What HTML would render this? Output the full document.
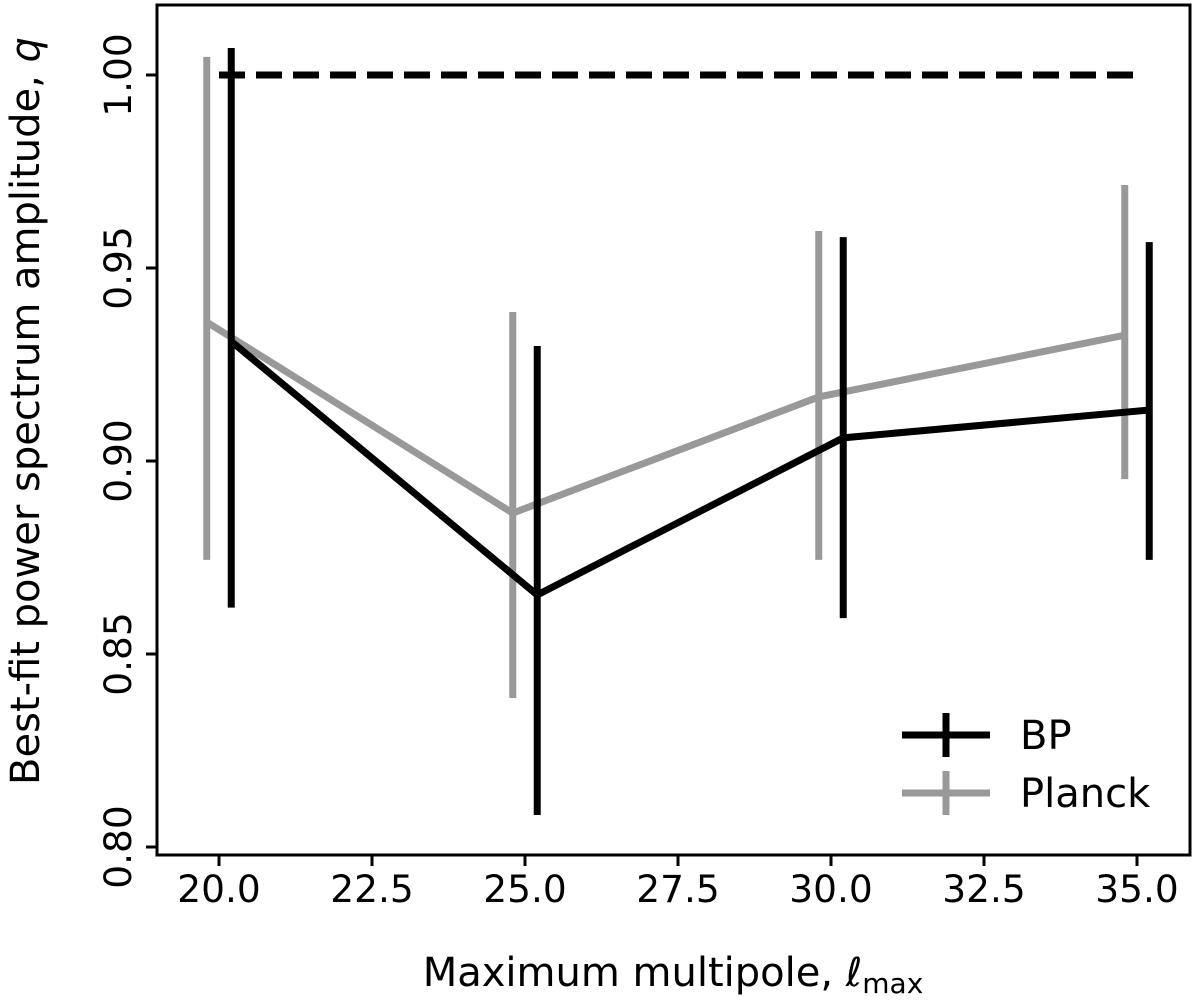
<!DOCTYPE html>
<html><head><meta charset="utf-8"><style>
body{margin:0;background:#fff}
text{font-family:"DejaVu Sans","Liberation Sans",sans-serif;fill:#000}
</style></head><body>
<svg id="c" width="1200" height="999" xmlns="http://www.w3.org/2000/svg"></svg>
<script>
const bpX=[20.2,25.2,30.2,35.2];
const bpY=[0.931,0.8653,0.906,0.9132];
const bpHi=[1.007,0.9298,0.958,0.9567];
const bpLo=[0.862,0.8083,0.8593,0.8744];
const plX=[19.8,24.8,29.8,34.8];
const plY=[0.936,0.8865,0.9166,0.9326];
const plHi=[1.0047,0.9386,0.9596,0.9715];
const plLo=[0.8744,0.8386,0.8744,0.8953];
const xTicks=[20,22.5,25,27.5,30,32.5,35];
const yTicks=[0.80,0.85,0.90,0.95,1.00];
const refLine=[20,35,1.0];
const svg=document.getElementById('c');
const NS='http://www.w3.org/2000/svg';
const X=v=>219+(v-20)*61.2;
const Y=v=>75+(1-v)*3860;
function mk(t,a,p){const e=document.createElementNS(NS,t);for(const k in a)e.setAttribute(k,a[k]);(p||svg).appendChild(e);return e;}
let f=mk('rect',{x:157,y:5,width:1033,height:850,fill:'none',stroke:'#000','stroke-width':3});


xTicks.forEach(t=>{
 let l=mk('line',{x1:X(t),x2:X(t),y1:855,y2:866,stroke:'#000','stroke-width':3});
 
 
 let tx=mk('text',{x:X(t),y:902,'font-size':37.5,'text-anchor':'middle'});tx.textContent=t.toFixed(1);
 
 
});
yTicks.forEach(t=>{
 let l=mk('line',{x1:146,x2:157,y1:Y(t),y2:Y(t),stroke:'#000','stroke-width':3});
 
 
 let tx=mk('text',{x:0,y:0,'font-size':37.5,'text-anchor':'middle',transform:`translate(131,${Y(t)}) rotate(-90)`});tx.textContent=t.toFixed(2);
 
 
});
let xl=mk('text',{x:673,y:986,'font-size':40,'text-anchor':'middle'});
xl.innerHTML='Maximum multipole, <tspan font-style="italic">ℓ</tspan><tspan font-size="28" dy="7">max</tspan>';


let yl=mk('text',{x:0,y:0,'font-size':40,'text-anchor':'middle',transform:'translate(39,411) rotate(-90)'});
yl.innerHTML='Best-fit power spectrum amplitude, <tspan font-style="italic">q</tspan>';


let rl=mk('line',{x1:X(refLine[0]),x2:X(refLine[1]),y1:Y(refLine[2]),y2:Y(refLine[2]),stroke:'#000','stroke-width':7,'stroke-dasharray':'26,11'});


function series(xs,ys,hi,lo,col,name){
 const g=mk('g',{});
 
 
 xs.forEach((x,i)=>{
  let e=mk('line',{x1:X(x),x2:X(x),y1:Y(hi[i]),y2:Y(lo[i]),stroke:col,'stroke-width':7},g);
  
  
 });
 let p=mk('polyline',{points:xs.map((x,i)=>X(x)+','+Y(ys[i])).join(' '),fill:'none',stroke:col,'stroke-width':7},g);
 
 
}
series(plX,plY,plHi,plLo,'#999','planck');
series(bpX,bpY,bpHi,bpLo,'#000','bp');
[['BP','#000',735],['Planck','#999',793]].forEach(([n,c,y])=>{
 let g=mk('g',{});
 
 
 mk('line',{x1:902,x2:990,y1:y,y2:y,stroke:c,'stroke-width':7},g);
 mk('line',{x1:946,x2:946,y1:y-22,y2:y+22,stroke:c,'stroke-width':7},g);
 let t=mk('text',{x:1020,y:y+14,'font-size':40},g);t.textContent=n;
});
</script>
</body></html>
